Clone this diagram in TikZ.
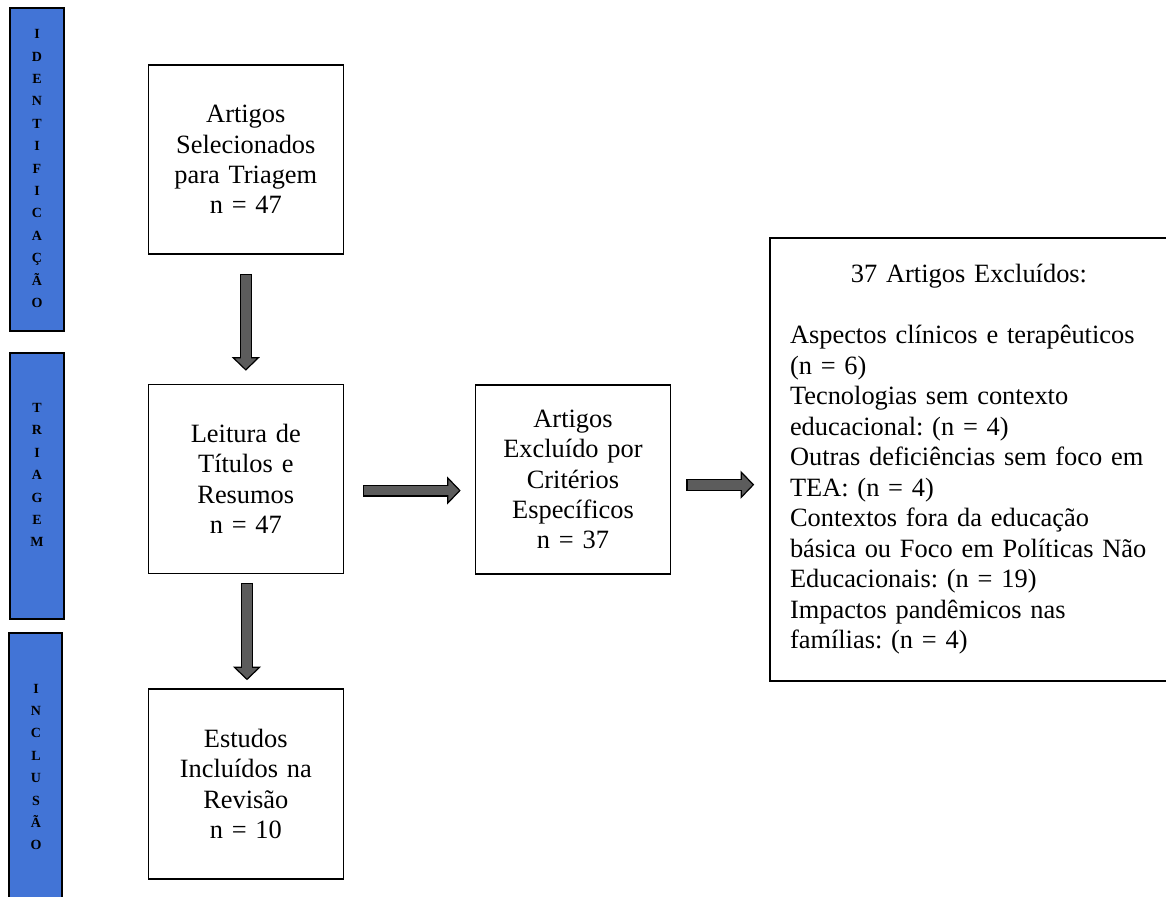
\documentclass[tikz,border=0pt]{standalone}
\usepackage{fontspec}
\setmainfont{Liberation Serif}
\usetikzlibrary{arrows.meta}
\definecolor{barblue}{RGB}{66,116,214}
\definecolor{arrowgray}{RGB}{92,92,92}
\frenchspacing

\tikzset{
  stagebox/.style={draw, line width=0.8pt, minimum width=97.5pt, minimum height=94.5pt,
    text width=90pt, align=center, inner sep=3pt, font=\fontsize{13.2}{15.2}\selectfont},
  listbox/.style={draw, line width=0.8pt, minimum width=199pt, minimum height=221.5pt,
    text width=179pt, align=left, inner sep=0pt, font=\fontsize{13.2}{15.25}\selectfont},
  phasebar/.style={draw, line width=1pt, fill=barblue},
  phaseletters/.style={align=center, font=\bfseries\fontsize{7}{11.2}\selectfont},
  fatarrow/.style={draw=black, line width=6pt,
    -{Triangle[width=14pt,length=6.8pt,line width=0.6pt,fill=arrowgray]},
    postaction={draw=arrowgray, line width=4.8pt, -, shorten <=0.6pt, shorten >=5.2pt}}
}

\begin{document}
\begin{tikzpicture}[x=0.5pt, y=-0.5pt]
    \useasboundingbox (0,0) rectangle (1166,896);

    % Phase bars on the left
    \foreach \xa/\ya/\xb/\yb in {10/8/64/331, 10/353/64/619, 9/633/62/899}
    {
        \draw[phasebar] (\xa,\ya) rectangle (\xb,\yb);
    }
    \node[phaseletters] (ident) at (37,168.5) {I\\D\\E\\N\\T\\I\\F\\I\\C\\A\\Ç\\Ã\\O};
    \node[phaseletters] (triag) at (37,475) {T\\R\\I\\A\\G\\E\\M};
    \node[phaseletters] (inclu) at (36,767) {I\\N\\C\\L\\U\\S\\Ã\\O};

    % Flow boxes
    \node[stagebox] (selec) at (245.8,159.5) {Artigos\\Selecionados\\para Triagem\\n = 47};
    \node[stagebox] (leit) at (245.8,479) {Leitura de\\Títulos e\\Resumos\\n = 47};
    \node[stagebox, minimum height=95pt] (incl) at (245.8,784) {Estudos\\Incluídos na\\Revisão\\n = 10};
    \node[stagebox] (crit) at (573,479.5) {Artigos\\Excluído por\\Critérios\\Específicos\\n = 37};

    % Excluded list
    \node[listbox] (excl) at (969,459.5) {\centering 37 Artigos Excluídos:\par
        \vspace{15.25pt}\raggedright
        Aspectos clínicos e terapêuticos\\(n = 6)\\Tecnologias sem contexto\\educacional: (n = 4)\\
        Outras deficiências sem foco em\\TEA: (n = 4)\\Contextos fora da educação\\
        básica ou Foco em Políticas Não\\Educacionais: (n = 19)\\Impactos pandêmicos nas\\
        famílias: (n = 4)};

    % Block arrows
    \draw[fatarrow] ([yshift=-9.5pt]selec.south) -- ([yshift=6.5pt]leit.north);
    \draw[fatarrow] ([xshift=0.6pt,yshift=-4.25pt]leit.south) -- ([xshift=0.6pt,yshift=4pt]incl.north);
    \draw[fatarrow] ([xshift=9.5pt,yshift=-5.75pt]leit.east) -- ([xshift=-7pt,yshift=-5.5pt]crit.west);
    \draw[fatarrow] ([xshift=7.5pt,yshift=-2.6pt]crit.east) -- ([xshift=-7.5pt,yshift=-12.6pt]excl.west);
\end{tikzpicture}
\end{document}
